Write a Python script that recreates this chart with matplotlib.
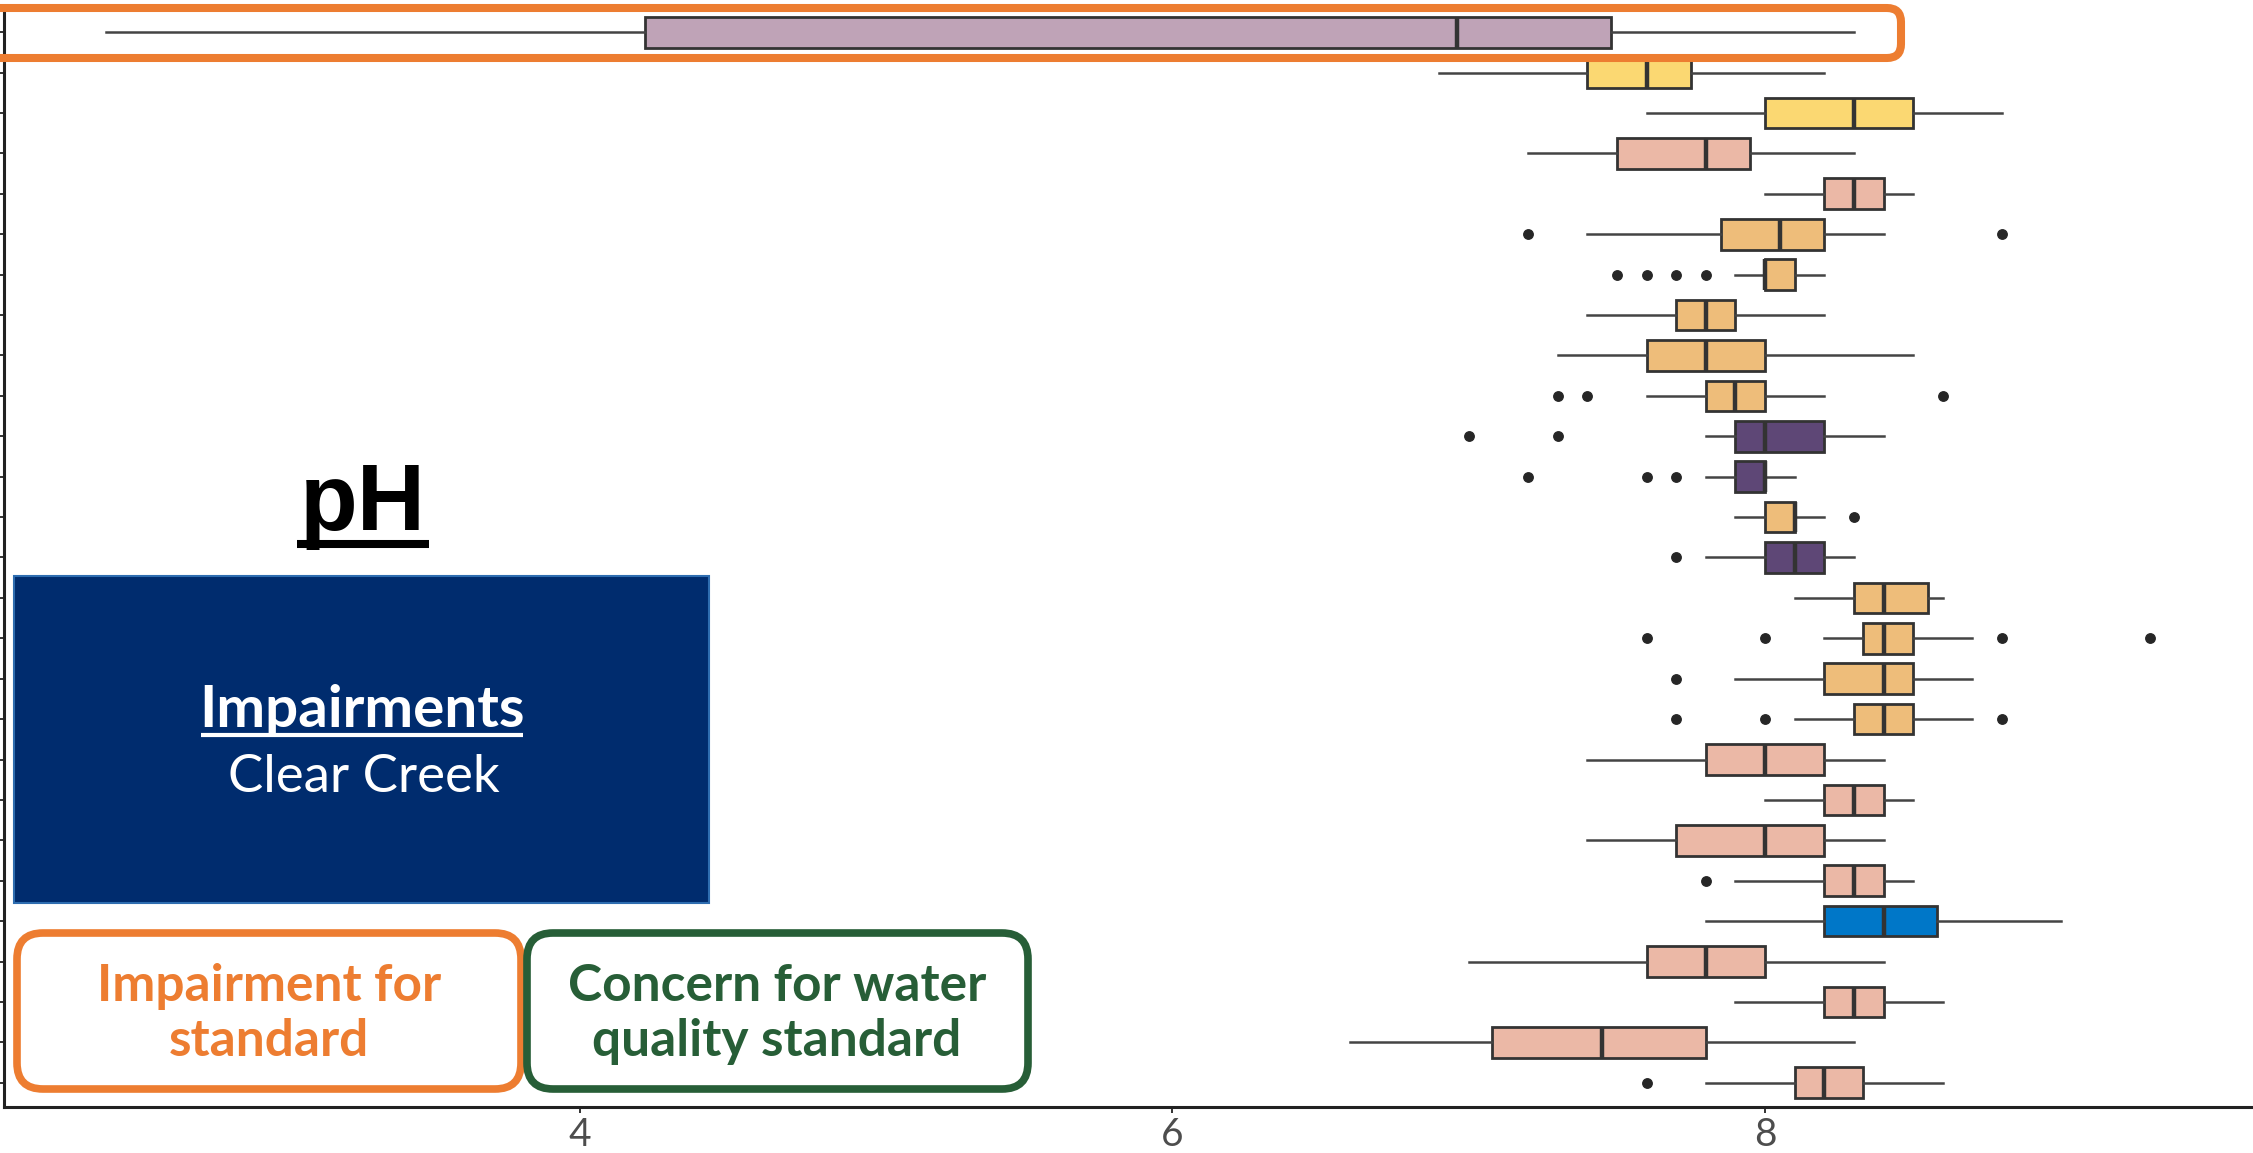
import matplotlib
matplotlib.use("Agg")
import matplotlib.pyplot as plt
from matplotlib.patches import FancyBboxPatch, Rectangle
from matplotlib.lines import Line2D
from matplotlib.transforms import Affine2D

# pH summaries per monitoring site, listed top to bottom
whislo = [2.40, 6.90, 7.60, 7.20, 8.00, 7.40, 7.90, 7.40, 7.30, 7.60, 7.80, 7.80, 7.90, 7.80,
          8.10, 8.20, 7.90, 8.10, 7.40, 8.00, 7.40, 7.90, 7.80, 7.00, 7.90, 6.60, 7.80]
q1 = [4.22, 7.40, 8.00, 7.50, 8.20, 7.85, 8.00, 7.70, 7.60, 7.80, 7.90, 7.90, 8.00, 8.00,
      8.30, 8.33, 8.20, 8.30, 7.80, 8.20, 7.70, 8.20, 8.20, 7.60, 8.20, 7.08, 8.10]
med = [6.96, 7.60, 8.30, 7.80, 8.30, 8.05, 8.00, 7.80, 7.80, 7.90, 8.00, 8.00, 8.10, 8.10,
       8.40, 8.40, 8.40, 8.40, 8.00, 8.30, 8.00, 8.30, 8.40, 7.80, 8.30, 7.45, 8.20]
q3 = [7.48, 7.75, 8.50, 7.95, 8.40, 8.20, 8.10, 7.90, 8.00, 8.00, 8.20, 8.00, 8.10, 8.20,
      8.55, 8.50, 8.50, 8.50, 8.20, 8.40, 8.20, 8.40, 8.58, 8.00, 8.40, 7.80, 8.33]
whishi = [8.30, 8.20, 8.80, 8.30, 8.50, 8.40, 8.20, 8.20, 8.50, 8.20, 8.40, 8.10, 8.20, 8.30,
          8.60, 8.70, 8.70, 8.70, 8.40, 8.50, 8.40, 8.50, 9.00, 8.40, 8.60, 8.30, 8.60]
fliers = [[], [], [], [], [], [7.2, 8.8], [7.5, 7.6, 7.7, 7.8], [], [], [7.3, 7.4, 8.6],
          [7.0, 7.3], [7.2, 7.6, 7.7], [8.3], [7.7], [], [7.6, 8.0, 8.8, 9.3], [7.7],
          [7.7, 8.0, 8.8], [], [], [], [7.8], [], [], [], [], [7.6]]
group = ['mauve', 'yellow', 'yellow', 'salmon', 'salmon', 'tan', 'tan', 'tan', 'tan', 'tan',
         'purple', 'purple', 'tan', 'purple', 'tan', 'tan', 'tan', 'tan', 'salmon', 'salmon',
         'salmon', 'salmon', 'blue', 'salmon', 'salmon', 'salmon', 'salmon']
x_ticks = [4, 6, 8]

palette = {
    'mauve': '#BFA3B7',
    'yellow': '#FBD872',
    'salmon': '#EBB8A6',
    'tan': '#EEBD7A',
    'purple': '#5E4776',
    'blue': '#0077C8',
}

W, H = 2253, 1153
DPI = 100
fig = plt.figure(figsize=(W / DPI, H / DPI), dpi=DPI)
fig.patch.set_facecolor('white')

ax = fig.add_axes([4 / W, (H - 1107) / H, 1 - 4 / W, (1107 - 12) / H])

n = len(med)
positions = list(range(n, 0, -1))
stats = []
for i in range(n):
    stats.append(dict(med=med[i], q1=q1[i], q3=q3[i], whislo=whislo[i],
                      whishi=whishi[i], fliers=fliers[i]))

edge = '#333333'
parts = ax.bxp(stats, positions=positions, widths=0.76, orientation='horizontal',
               patch_artist=True, showcaps=False,
               boxprops=dict(edgecolor=edge, linewidth=2.0),
               medianprops=dict(color=edge, linewidth=3.2),
               whiskerprops=dict(color='#444444', linewidth=1.8),
               flierprops=dict(marker='o', markersize=6.8, markerfacecolor='#262626',
                               markeredgecolor='#262626'))
for box, g in zip(parts['boxes'], group):
    box.set_facecolor(palette[g])

ax.set_xlim(2.056, 9.647)
ax.set_ylim(0.4, 27.5)
ax.set_xticks(x_ticks)
ax.set_xticklabels([str(t) for t in x_ticks])
ax.set_yticks(positions)
ax.set_yticklabels([])
ax.tick_params(axis='x', length=4, width=1.4, color='#333333', labelsize=28,
               labelcolor='#4D4D4D', pad=3)
ax.tick_params(axis='y', length=4, width=1.4, color='#333333')
for lab in ax.get_xticklabels():
    lab.set_fontfamily('Lato')
ax.spines['top'].set_visible(False)
ax.spines['right'].set_visible(False)
ax.spines['left'].set_linewidth(2.2)
ax.spines['bottom'].set_linewidth(2.2)
ax.spines['left'].set_color('#222222')
ax.spines['bottom'].set_color('#222222')
ax.set_facecolor('white')

# overlay drawn in pixel units, origin at top-left
px = Affine2D().scale(1 / DPI, -1 / DPI).translate(0, H / DPI) + fig.dpi_scale_trans

orange = '#ED7D31'
green = '#275E37'

# highlight around the top site
fig.patches.append(FancyBboxPatch((-40, 8), 1941, 50, boxstyle='round,pad=0,rounding_size=14',
                                  transform=px, facecolor='none', edgecolor=orange,
                                  linewidth=5.8, zorder=5))

# title
fig.text(363, 530, 'pH', transform=px, ha='center', va='baseline', fontsize=68,
         fontweight='bold', family='Liberation Sans', color='black')
fig.lines.append(Line2D([297, 429], [544, 544], transform=px, color='black',
                        linewidth=5.8, solid_capstyle='butt'))

# site card
fig.patches.append(Rectangle((14, 576), 695, 327, transform=px, facecolor='#002C6E',
                             edgecolor='#2E6DB0', linewidth=1.5, zorder=3))
fig.text(362, 727, 'Impairments', transform=px, ha='center', va='baseline', fontsize=42,
         fontweight='bold', family='Lato', color='white', zorder=4)
fig.lines.append(Line2D([201, 523], [735, 735], transform=px, color='white',
                        linewidth=3, solid_capstyle='butt', zorder=4))
fig.text(364, 792, 'Clear Creek', transform=px, ha='center', va='baseline', fontsize=38,
         fontweight='normal', family='Lato', color='white', zorder=4)

# key boxes
fig.patches.append(FancyBboxPatch((17, 933), 504, 156, boxstyle='round,pad=0,rounding_size=26',
                                  transform=px, facecolor='white', edgecolor=orange,
                                  linewidth=5.5, zorder=3))
fig.patches.append(FancyBboxPatch((527, 933), 501, 156, boxstyle='round,pad=0,rounding_size=26',
                                  transform=px, facecolor='white', edgecolor=green,
                                  linewidth=5.5, zorder=3))
fig.text(269, 1001, 'Impairment for', transform=px, ha='center', va='baseline',
         fontsize=37, fontweight='bold', family='Lato', color=orange, zorder=4)
fig.text(269, 1056, 'standard', transform=px, ha='center', va='baseline',
         fontsize=37, fontweight='bold', family='Lato', color=orange, zorder=4)
fig.text(777, 1001, 'Concern for water', transform=px, ha='center', va='baseline',
         fontsize=37, fontweight='bold', family='Lato', color=green, zorder=4)
fig.text(777, 1056, 'quality standard', transform=px, ha='center', va='baseline',
         fontsize=37, fontweight='bold', family='Lato', color=green, zorder=4)

fig.savefig('out.png', dpi=DPI, facecolor='white')
